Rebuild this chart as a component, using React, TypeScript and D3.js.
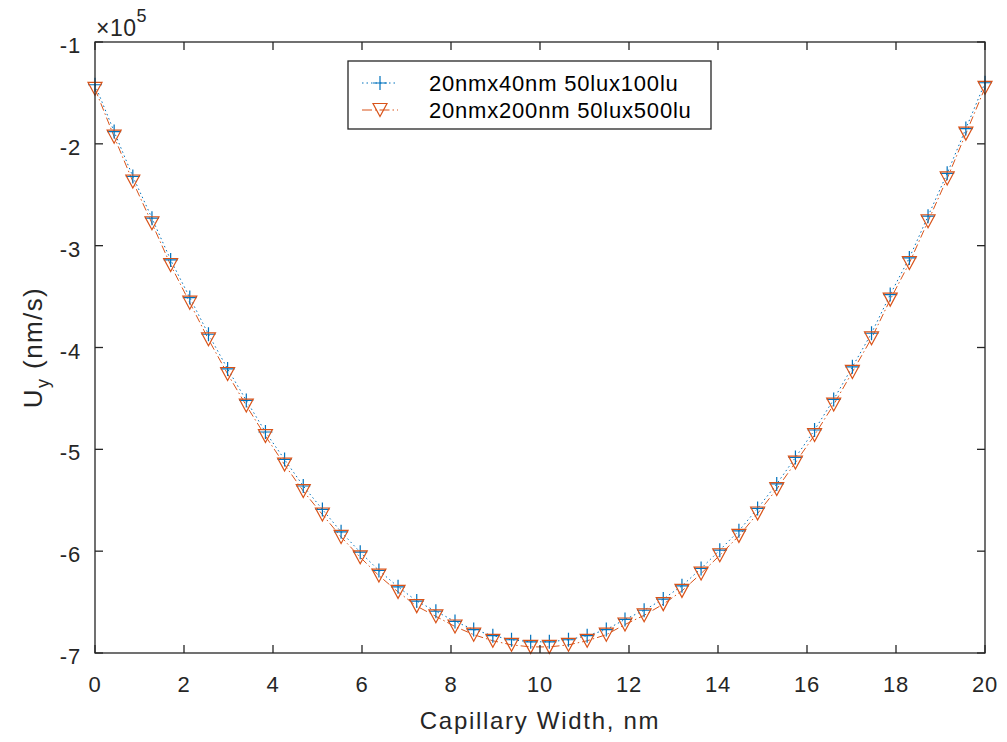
import React from "react";
import * as d3 from "d3";

const xValues = [0, 0.43, 0.85, 1.28, 1.70, 2.13, 2.55, 2.98, 3.40, 3.83, 4.26, 4.68, 5.11, 5.53, 5.96, 6.38, 6.81, 7.23, 7.66, 8.09, 8.51, 8.94, 9.36, 9.79, 10.21, 10.64, 11.06, 11.49, 11.91, 12.34, 12.77, 13.19, 13.62, 14.04, 14.47, 14.89, 15.32, 15.74, 16.17, 16.60, 17.02, 17.45, 17.87, 18.30, 18.72, 19.15, 19.57, 20.0];

const series100 = [-1.42, -1.88, -2.32, -2.73, -3.14, -3.51, -3.87, -4.21, -4.52, -4.83, -5.10, -5.36, -5.59, -5.81, -6.01, -6.19, -6.35, -6.49, -6.59, -6.69, -6.77, -6.83, -6.87, -6.89, -6.89, -6.87, -6.83, -6.77, -6.67, -6.58, -6.47, -6.34, -6.17, -5.99, -5.80, -5.58, -5.34, -5.08, -4.81, -4.51, -4.19, -3.86, -3.48, -3.12, -2.71, -2.29, -1.85, -1.40];

const series500 = [-1.46, -1.93, -2.37, -2.78, -3.19, -3.56, -3.92, -4.26, -4.57, -4.87, -5.15, -5.41, -5.64, -5.86, -6.06, -6.24, -6.40, -6.54, -6.64, -6.74, -6.82, -6.88, -6.92, -6.94, -6.94, -6.92, -6.88, -6.82, -6.72, -6.63, -6.52, -6.39, -6.22, -6.04, -5.85, -5.63, -5.39, -5.13, -4.86, -4.56, -4.24, -3.91, -3.53, -3.17, -2.76, -2.34, -1.90, -1.45];

const xTicks = [0, 2, 4, 6, 8, 10, 12, 14, 16, 18, 20];
const yTicks = [-7, -6, -5, -4, -3, -2, -1];
const legendLabels = ["20nmx40nm 50lux100lu", "20nmx200nm 50lux500lu"];

const W = 1007;
const H = 742;
const L = 95, R = 985, T = 42, B = 653;
const AX = "#262626";
const BLUE = "#0072BD";
const ORANGE = "#D95319";
const FONT = "'Liberation Sans', Arial, Helvetica, sans-serif";

function Plus({ x, y, c }: { x: number; y: number; c: string }) {
  const s = 7;
  return (
    <path d={`M${x - s},${y}H${x + s}M${x},${y - s}V${y + s}`} stroke={c} strokeWidth={1.2} fill="none" />
  );
}

function TriDown({ x, y, c }: { x: number; y: number; c: string }) {
  const w = 7, h = 6.5;
  return (
    <path d={`M${x - w},${y - h}L${x + w},${y - h}L${x},${y + h}Z`} stroke={c} strokeWidth={1.2} fill="none" />
  );
}

export default function App() {
  const x = d3.scaleLinear().domain([0, 20]).range([L, R]);
  const y = d3.scaleLinear().domain([-7, -1]).range([B, T]);
  const line = d3.line<number>().x((_, i) => x(xValues[i])).y((d) => y(d));
  const tl = 8;

  return (
    <div style={{ position: "absolute", left: 0, top: 0 }}>
      <svg width={W} height={H} style={{ display: "block", background: "#fff" }} fontFamily={FONT}>
        <rect x={0} y={0} width={W} height={H} fill="#fff" />
        <path d={line(series100) || ""} fill="none" stroke={BLUE} strokeWidth={1} strokeDasharray="1.5,3" />
        <path d={line(series500) || ""} fill="none" stroke={ORANGE} strokeWidth={1} strokeDasharray="8,3,1.5,3" />
        {series100.map((v, i) => (
          <Plus key={"p" + i} x={x(xValues[i])} y={y(v)} c={BLUE} />
        ))}
        {series500.map((v, i) => (
          <TriDown key={"t" + i} x={x(xValues[i])} y={y(v)} c={ORANGE} />
        ))}
        <rect x={L} y={T} width={R - L} height={B - T} fill="none" stroke={AX} strokeWidth={1.3} />
        {xTicks.map((t) => (
          <g key={"xt" + t}>
            <line x1={x(t)} x2={x(t)} y1={B} y2={B - tl} stroke={AX} strokeWidth={1.3} />
            <line x1={x(t)} x2={x(t)} y1={T} y2={T + tl} stroke={AX} strokeWidth={1.3} />
            <text x={x(t)} y={692} textAnchor="middle" fontSize={22} fill={AX} letterSpacing={0.8}>
              {t}
            </text>
          </g>
        ))}
        {yTicks.map((t) => (
          <g key={"yt" + t}>
            <line x1={L} x2={L + tl} y1={y(t)} y2={y(t)} stroke={AX} strokeWidth={1.3} />
            <line x1={R} x2={R - tl} y1={y(t)} y2={y(t)} stroke={AX} strokeWidth={1.3} />
            <text x={81} y={y(t) + 11} textAnchor="end" fontSize={22} fill={AX} letterSpacing={0.8}>
              {t}
            </text>
          </g>
        ))}
        <text x={96} y={36} fontSize={23} fill={AX} letterSpacing={0.5}>
          ×10
          <tspan dy={-14} fontSize={18}>5</tspan>
        </text>
        <text x={(L + R) / 2} y={729} textAnchor="middle" fontSize={24} fill={AX} letterSpacing={1.7}>
          Capillary Width, nm
        </text>
        <text transform={`translate(42,${(T + B) / 2}) rotate(-90)`} textAnchor="middle" fontSize={26} fill={AX} letterSpacing={1.4}>
          U<tspan dy={7} fontSize={18}>y</tspan>
          <tspan dy={-7}> (nm/s)</tspan>
        </text>
        <g>
          <rect x={348} y={61} width={363} height={68} fill="#fff" stroke={AX} strokeWidth={1.3} />
          <line x1={362} x2={398} y1={83} y2={83} stroke={BLUE} strokeWidth={1} strokeDasharray="1.5,3" />
          <Plus x={380} y={83} c={BLUE} />
          <text x={429} y={91} fontSize={22} fill="#000" letterSpacing={0.8}>
            {legendLabels[0]}
          </text>
          <line x1={362} x2={398} y1={110} y2={110} stroke={ORANGE} strokeWidth={1} strokeDasharray="10,3,1.5,3" />
          <TriDown x={380} y={110} c={ORANGE} />
          <text x={429} y={118} fontSize={22} fill="#000" letterSpacing={0.8}>
            {legendLabels[1]}
          </text>
        </g>
      </svg>
    </div>
  );
}
